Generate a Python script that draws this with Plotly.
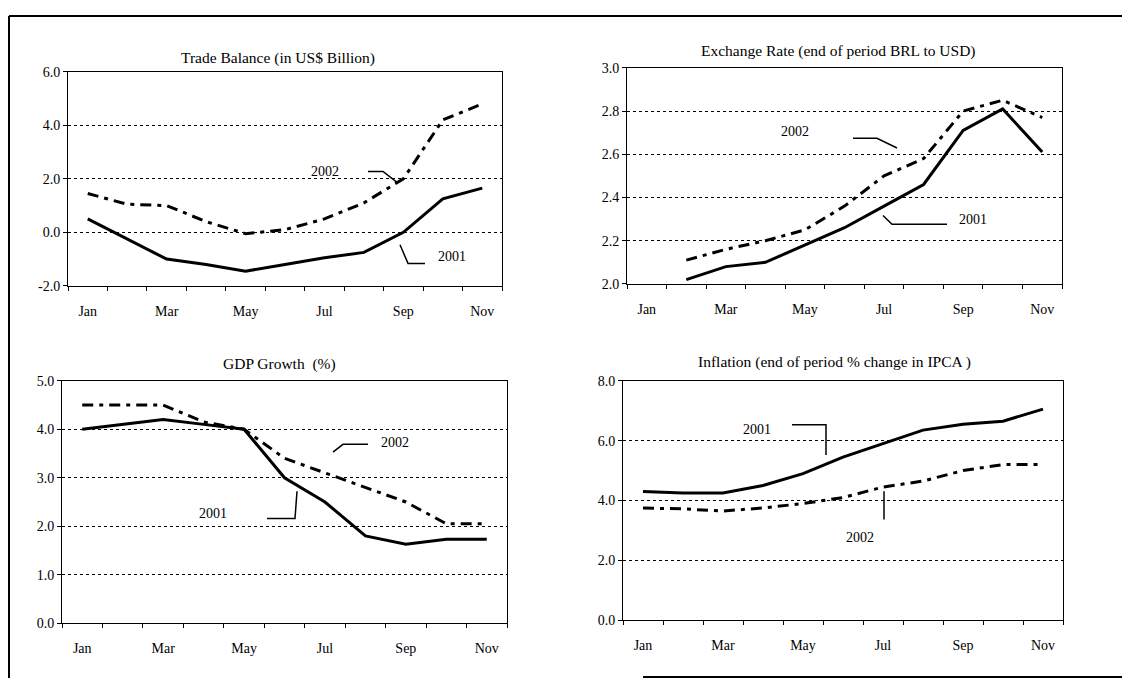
import plotly.graph_objects as go

# page is 1130x694; the body keeps its default 8px margin, so the figure is 1114x678
PAGE_OFF = 8
FW, FH = 1130 - 2 * PAGE_OFF, 694 - 2 * PAGE_OFF

months = ["Jan", "Feb", "Mar", "Apr", "May", "Jun", "Jul", "Aug", "Sep", "Oct", "Nov"]
month_idx = list(range(len(months)))
tick_labels = ["Jan", "", "Mar", "", "May", "", "Jul", "", "Sep", "", "Nov"]

trade_2001 = [0.5, -0.25, -1.0, -1.2, -1.45, -1.2, -0.95, -0.75, 0.0, 1.25, 1.65]
trade_2002 = [1.45, 1.05, 1.0, 0.4, -0.05, 0.1, 0.5, 1.1, 2.0, 4.2, 4.8]

fx_2001 = [None, 2.02, 2.08, 2.10, 2.18, 2.26, 2.36, 2.46, 2.71, 2.81, 2.61]
fx_2002 = [None, 2.11, 2.16, 2.20, 2.25, 2.36, 2.50, 2.58, 2.80, 2.85, 2.77]

gdp_2001 = [4.0, 4.1, 4.2, 4.1, 4.0, 3.0, 2.5, 1.8, 1.63, 1.73, 1.73]
gdp_2002 = [4.5, 4.5, 4.5, 4.15, 4.0, 3.4, 3.1, 2.8, 2.5, 2.05, 2.05]

infl_2001 = [4.3, 4.25, 4.25, 4.5, 4.9, 5.45, 5.9, 6.35, 6.55, 6.65, 7.05]
infl_2002 = [3.75, 3.72, 3.65, 3.75, 3.9, 4.1, 4.45, 4.65, 5.0, 5.2, 5.2]

trade_ticks = [-2.0, 0.0, 2.0, 4.0, 6.0]
fx_ticks = [2.0, 2.2, 2.4, 2.6, 2.8, 3.0]
gdp_ticks = [0.0, 1.0, 2.0, 3.0, 4.0, 5.0]
infl_ticks = [0.0, 2.0, 4.0, 6.0, 8.0]

titles = [
    "Trade Balance (in US$ Billion)",
    "Exchange Rate (end of period BRL to USD)",
    "GDP Growth  (%)",
    "Inflation (end of period % change in IPCA )",
]

FONT = "Liberation Serif"


def px(x):
    return (x - PAGE_OFF) / FW


def py(y):
    return 1 - (y - PAGE_OFF) / FH


# panel pixel boxes in page coordinates: (x0, x1, ytop, ybottom)
boxes = [
    (68, 502, 66, 285),
    (627, 1062, 62, 283),
    (62, 507, 382, 630),
    (623, 1063, 382, 627),
]
yticks_all = [trade_ticks, fx_ticks, gdp_ticks, infl_ticks]
series = [
    (trade_2001, trade_2002),
    (fx_2001, fx_2002),
    (gdp_2001, gdp_2002),
    (infl_2001, infl_2002),
]

fig = go.Figure()
layout = dict(
    width=FW, height=FH, autosize=False,
    margin=dict(l=0, r=0, t=0, b=0, pad=0),
    paper_bgcolor="white", plot_bgcolor="white",
    showlegend=False,
    font=dict(family=FONT, size=14, color="black"),
)

annotations = []
shapes = []

for i, ((x0, x1, yt, yb), yt_vals, (s1, s2), title) in enumerate(
        zip(boxes, yticks_all, series, titles)):
    n = "" if i == 0 else str(i + 1)
    xa, ya = "x" + n, "y" + n
    fig.add_trace(go.Scatter(x=month_idx, y=s2, mode="lines", xaxis=xa, yaxis=ya,
                             line=dict(color="black", width=3, dash="11px,6px,4px,6px"),
                             connectgaps=False, name="2002"))
    fig.add_trace(go.Scatter(x=month_idx, y=s1, mode="lines", xaxis=xa, yaxis=ya,
                             line=dict(color="black", width=3), connectgaps=False, name="2001"))
    layout["xaxis" + n] = dict(
        domain=[px(x0), px(x1)], anchor=ya, range=[-0.5, 10.5],
        tickvals=month_idx, ticktext=tick_labels, ticks="",
        ticklabelstandoff=12,
        showline=True, linecolor="black", linewidth=1, mirror=True,
        showgrid=False, zeroline=False,
        tickfont=dict(family=FONT, size=14),
        minor=dict(tickvals=[k - 0.5 for k in range(12)], ticks="outside",
                   ticklen=4, tickcolor="black", showgrid=False),
    )
    layout["yaxis" + n] = dict(
        domain=[py(yb), py(yt)], anchor=xa, range=[yt_vals[0], yt_vals[-1]],
        tickvals=yt_vals, ticktext=[f"{v:.1f}" for v in yt_vals],
        ticks="outside", ticklen=4, tickcolor="black",
        showline=True, linecolor="black", linewidth=1, mirror=True,
        showgrid=True, gridcolor="black", gridwidth=1, griddash="3px,3px",
        zeroline=False, tickfont=dict(family=FONT, size=14),
    )

# titles
title_pos = [(278, 52), (838, 45), (279, 365), (834, 363)]
for t, (tx, ty) in zip(titles, title_pos):
    annotations.append(dict(text=t, x=px(tx), y=py(ty), xref="paper", yref="paper",
                            showarrow=False, xanchor="center", yanchor="middle",
                            font=dict(family=FONT, size=15.5)))

# series labels with leader lines
labels = [
    ("2002", 325, 168, [(368, 168), (383, 168), (398, 180)]),
    ("2001", 452, 255, [(425, 262), (408, 262), (400, 243)]),
    ("2002", 795, 127, [(853, 134), (877, 134), (897, 144)]),
    ("2001", 973, 217, [(947, 222), (892, 222), (883, 213)]),
    ("2002", 395, 445, [(368, 447), (343, 447), (333, 455)]),
    ("2001", 213, 518, [(267, 523), (295, 523), (297, 495)]),
    ("2001", 757, 432, [(792, 427), (826, 427), (826, 458)]),
    ("2002", 860, 542, [(884, 495), (884, 524)]),
]
for txt, lx, ly, pts in labels:
    annotations.append(dict(text=txt, x=px(lx), y=py(ly), xref="paper", yref="paper",
                            showarrow=False, xanchor="center", yanchor="middle",
                            font=dict(family=FONT, size=14)))
    path = "M " + " L ".join(f"{px(a):.5f},{py(b):.5f}" for a, b in pts)
    shapes.append(dict(type="path", path=path, xref="paper", yref="paper",
                       line=dict(color="black", width=1.5)))

# outer frame (partial, as in the scan), clipped to the figure area
frame = [
    [(9, 9), (1122, 9)],
    [(9, 9), (9, 686)],
    [(643, 685), (1122, 685)],
]
for seg in frame:
    (a0, b0), (a1, b1) = seg
    shapes.append(dict(type="line", x0=px(a0), y0=py(b0), x1=px(a1), y1=py(b1),
                       xref="paper", yref="paper", line=dict(color="black", width=2)))

layout["annotations"] = annotations
layout["shapes"] = shapes
fig.update_layout(**layout)
fig.write_html("out.html", config={"displayModeBar": False})
